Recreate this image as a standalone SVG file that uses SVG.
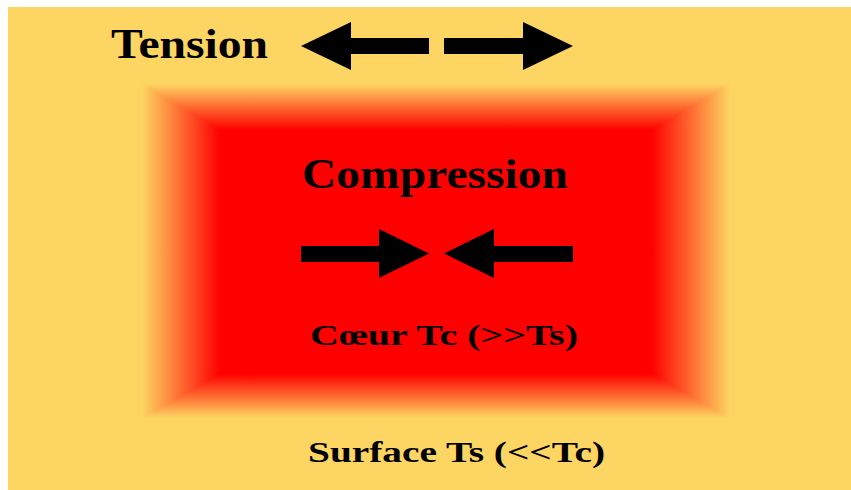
<svg xmlns="http://www.w3.org/2000/svg" width="851" height="490" viewBox="0 0 851 490">
  <style>
    .lbl { font-family: "Liberation Serif", "DejaVu Serif", serif; font-weight: bold; fill: #000; }
    .big { font-size: 42px; }
    .small { font-size: 30px; }
    .arrow { fill: #000; }
  </style>
  <defs>
    <linearGradient id="gTop" gradientUnits="userSpaceOnUse" x1="0" y1="84" x2="0" y2="130">
      <stop offset="0" stop-color="#FDD562"/>
      <stop offset="1" stop-color="#FF0000"/>
    </linearGradient>
    <linearGradient id="gBot" gradientUnits="userSpaceOnUse" x1="0" y1="374" x2="0" y2="418">
      <stop offset="0" stop-color="#FF0000"/>
      <stop offset="1" stop-color="#FDD562"/>
    </linearGradient>
    <linearGradient id="gLeft" gradientUnits="userSpaceOnUse" x1="142" y1="0" x2="220" y2="0">
      <stop offset="0" stop-color="#FDD562"/>
      <stop offset="1" stop-color="#FF0000"/>
    </linearGradient>
    <linearGradient id="gRight" gradientUnits="userSpaceOnUse" x1="652" y1="0" x2="730" y2="0">
      <stop offset="0" stop-color="#FF0000"/>
      <stop offset="1" stop-color="#FDD562"/>
    </linearGradient>
  </defs>

  <rect id="background" x="8" y="7" width="843" height="483" fill="#FDD562"/>

  <g id="core">
    <rect x="142" y="84" width="78" height="334" fill="url(#gLeft)"/>
    <rect x="652" y="84" width="78" height="334" fill="url(#gRight)"/>
    <rect x="219" y="129" width="434" height="246" fill="#FF0000"/>
    <polygon points="142,84 730,84 652,130 220,130" fill="url(#gTop)"/>
    <polygon points="220,374 652,374 730,418 142,418" fill="url(#gBot)"/>
  </g>

  <g id="labels">
    <text id="tension" class="lbl big" x="111" y="58" textLength="157" lengthAdjust="spacingAndGlyphs">Tension</text>
    <text id="compression" class="lbl big" x="302" y="188" textLength="266" lengthAdjust="spacingAndGlyphs">Compression</text>
    <text id="coeur" class="lbl small" x="310" y="345" textLength="268" lengthAdjust="spacingAndGlyphs">Cœur Tc (&gt;&gt;Ts)</text>
    <text id="surface" class="lbl small" x="308" y="462" textLength="297" lengthAdjust="spacingAndGlyphs">Surface Ts (&lt;&lt;Tc)</text>
  </g>

  <g id="connectors">
    <polygon class="arrow" points="301,46 351,22 351,38 429,38 429,54 351,54 351,70"/>
    <polygon class="arrow" points="573,46 523,22 523,38 444,38 444,54 523,54 523,70"/>
    <polygon class="arrow" points="301,246 379,246 379,229 429,253.5 379,278 379,262 301,262"/>
    <polygon class="arrow" points="573,246 494,246 494,229 444,253.5 494,278 494,262 573,262"/>
  </g>
</svg>
